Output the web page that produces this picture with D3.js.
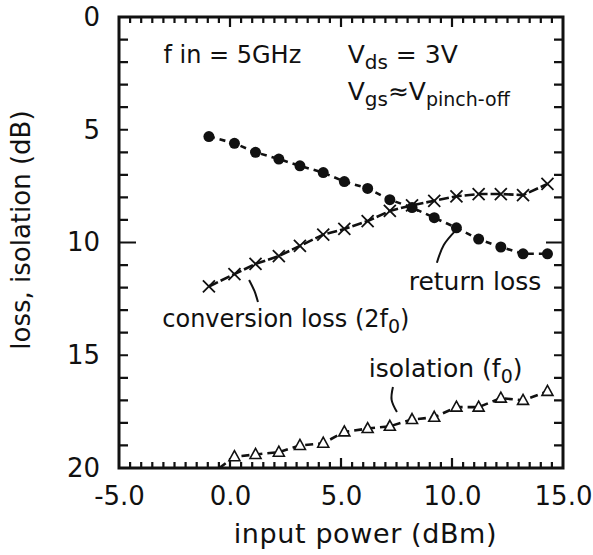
<!DOCTYPE html>
<html>
<head>
<meta charset="utf-8">
<script src="https://cdn.jsdelivr.net/npm/d3@7"></script>
<style>
  body { margin: 0; background: #fff; }
  svg text { font-family: "DejaVu Sans", sans-serif; fill: #111; }
</style>
</head>
<body>
<div id="chart"></div>
<script>
// values
const inputPower = [-0.95, 0.2, 1.15, 2.2, 3.15, 4.2, 5.15, 6.2, 7.2, 8.2, 9.2, 10.2, 11.2, 12.2, 13.2, 14.3];
const returnLoss = [5.3, 5.6, 6.0, 6.3, 6.6, 6.9, 7.3, 7.6, 8.1, 8.45, 8.9, 9.35, 9.85, 10.2, 10.5, 10.5];
const conversionLoss = [11.95, 11.4, 10.95, 10.6, 10.15, 9.65, 9.4, 9.05, 8.6, 8.35, 8.15, 7.95, 7.85, 7.85, 7.9, 7.4];
const isolation = [20.35, 19.5, 19.4, 19.3, 19.0, 18.9, 18.4, 18.25, 18.15, 17.85, 17.75, 17.3, 17.3, 16.9, 17.0, 16.6];

const xTickLabels = [-5, 0, 5, 10, 15];
const yTickLabels = [0, 5, 10, 15, 20];

const W = 593, H = 555;
const margin = { top: 17, right: 30, bottom: 87, left: 119 };
const width = W - margin.left - margin.right;
const height = H - margin.top - margin.bottom;

const x = d3.scaleLinear().domain([-5, 15]).range([0, width]);
const y = d3.scaleLinear().domain([0, 20]).range([0, height]);

const svg = d3.select('#chart')
    .append('svg')
    .attr('width', W)
    .attr('height', H)
    .append('g')
    .attr('transform', `translate(${margin.left},${margin.top})`);

svg.append('defs').append('clipPath').attr('id', 'clip')
    .append('rect').attr('width', width).attr('height', height);

// frame
svg.append('rect')
    .attr('width', width).attr('height', height)
    .attr('fill', 'none').attr('stroke', '#111').attr('stroke-width', 3);

// inward ticks: every 0.5 dBm on x (longer at 0, 5, 10), every 1 dB on y (longer at 10)
const xTicks = x.ticks(40).filter(v => v > -5 && v < 15);
const yTicks = y.ticks(20).filter(v => v > 0 && v < 20);
const xLen = v => ([0, 5, 10].includes(v) ? 10 : 6);
const yLen = v => (v === 10 ? 17 : 9);

const tickPath = d => svg.append('path')
    .attr('d', d)
    .attr('fill', 'none').attr('stroke', '#111').attr('stroke-width', 2.2);
tickPath(xTicks.map(v => `M${x(v)},${height}V${height - xLen(v)}`).join(''));
tickPath(xTicks.map(v => `M${x(v)},0V${xLen(v)}`).join(''));
tickPath(yTicks.map(v => `M0,${y(v)}H${yLen(v)}`).join(''));
tickPath(yTicks.map(v => `M${width},${y(v)}H${width - yLen(v)}`).join(''));

// tick labels
const xAxis = svg.append('g')
    .attr('transform', `translate(0,${height})`)
    .call(d3.axisBottom(x).tickValues(xTickLabels).tickSize(0).tickPadding(19)
        .tickFormat(d => d.toFixed(1)));
const yAxis = svg.append('g')
    .call(d3.axisLeft(y).tickValues(yTickLabels).tickSize(0).tickPadding(19));
[xAxis, yAxis].forEach(g => {
    g.select('.domain').remove();
    g.selectAll('text').attr('font-size', 26).attr('fill', '#111')
        .style('font-family', '"DejaVu Sans", sans-serif');
});

// axis titles
svg.append('text')
    .attr('x', x(6.1)).attr('y', height + 75)
    .attr('text-anchor', 'middle').attr('font-size', 27).attr('letter-spacing', 0.6)
    .text('input power (dBm)');
svg.append('text')
    .attr('transform', `translate(${-89},${y(9.45)}) rotate(-90)`)
    .attr('text-anchor', 'middle').attr('font-size', 26)
    .text('loss,  isolation (dB)');

// series
const plot = svg.append('g').attr('clip-path', 'url(#clip)');
const pts = vals => vals.map((v, i) => [inputPower[i], v]);
const line = d3.line().x(d => x(d[0])).y(d => y(d[1]));

plot.append('path').datum(pts(returnLoss))
    .attr('fill', 'none').attr('stroke', '#111').attr('stroke-width', 2.6)
    .attr('stroke-dasharray', '6,5').attr('d', line);
plot.append('path').datum(pts(conversionLoss))
    .attr('fill', 'none').attr('stroke', '#111').attr('stroke-width', 2.6)
    .attr('stroke-dasharray', '10,3').attr('d', line);
plot.append('path').datum(pts(isolation))
    .attr('fill', 'none').attr('stroke', '#111').attr('stroke-width', 2.6)
    .attr('stroke-dasharray', '8,5').attr('d', line);

plot.selectAll('.dot').data(pts(returnLoss)).enter()
    .append('circle')
    .attr('cx', d => x(d[0])).attr('cy', d => y(d[1]))
    .attr('r', 5.5).attr('fill', '#111');

plot.selectAll('.cross').data(pts(conversionLoss)).enter()
    .append('path')
    .attr('transform', d => `translate(${x(d[0])},${y(d[1])})`)
    .attr('d', 'M-6,-6L6,6M-6,6L6,-6')
    .attr('stroke', '#111').attr('stroke-width', 1.8).attr('fill', 'none');

plot.selectAll('.tri').data(pts(isolation)).enter()
    .append('path')
    .attr('transform', d => `translate(${x(d[0])},${y(d[1])})`)
    .attr('d', 'M0,-6L5.5,4L-5.5,4Z')
    .attr('stroke', '#111').attr('stroke-width', 1.6).attr('fill', '#fff');

// leader lines
const leaders = [
    [[0.86, 11.66], [1.1, 12.15], [1.26, 12.64]],
    [[9.32, 10.9], [9.63, 10.11], [10.18, 9.45]],
    [[7.34, 16.41], [7.28, 16.98], [7.52, 17.52]]
];
const leaderLine = d3.line().x(d => x(d[0])).y(d => y(d[1])).curve(d3.curveNatural);
svg.selectAll('.leader').data(leaders).enter()
    .append('path')
    .attr('d', leaderLine)
    .attr('fill', 'none').attr('stroke', '#111').attr('stroke-width', 2);

// annotations
const label = (xv, yv, size) => svg.append('text')
    .attr('x', x(xv)).attr('y', y(yv)).attr('font-size', size);
const sub = (t, s, size) => t.append('tspan').attr('font-size', size).attr('dy', 6).text(s);
const up = (t, s) => t.append('tspan').attr('dy', -6).text(s);

label(-3.0, 2.05, 24).text('f in = 5GHz');

const vds = label(5.3, 2.05, 25);
vds.append('tspan').text('V');
sub(vds, 'ds', 20);
up(vds, ' = 3V');

const vgs = label(5.3, 3.7, 25);
vgs.append('tspan').text('V');
sub(vgs, 'gs', 20);
up(vgs, '≈V');
sub(vgs, 'pinch-off', 19);

label(8.05, 12.1, 25).text('return loss');

const conv = label(-3.05, 13.75, 24);
conv.append('tspan').text('conversion loss  (2f');
sub(conv, '0', 19);
up(conv, ')');

const iso = label(6.25, 15.95, 25);
iso.append('tspan').text('isolation (f');
sub(iso, '0', 19);
up(iso, ')');
</script>
</body>
</html>
